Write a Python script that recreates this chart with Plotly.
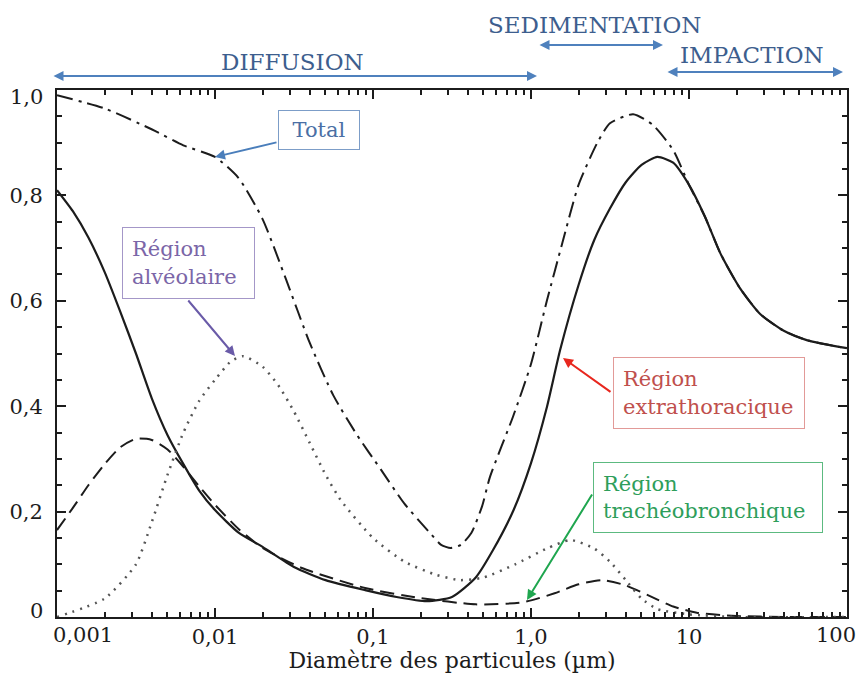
import plotly.graph_objects as go

# ---------------- data (diameter in µm, deposition fraction) ----------------
total_d = [0.001, 0.002, 0.004, 0.0063, 0.01, 0.0141, 0.02, 0.0282, 0.0398, 0.0562,
           0.0794, 0.112, 0.158, 0.224, 0.27, 0.31, 0.36, 0.42, 0.49, 0.55, 0.769, 1.0, 1.26, 1.58,
           2.0, 2.63, 3.16, 4.43, 5.89, 7.94, 10.0, 12.6, 15.8, 20.9, 28.2, 39.8, 56.2, 100.0]
total_v = [0.99, 0.965, 0.925, 0.895, 0.873, 0.833, 0.755, 0.64, 0.52, 0.42,
           0.345, 0.28, 0.215, 0.163, 0.137, 0.131, 0.137, 0.16, 0.21, 0.266, 0.38, 0.48, 0.6, 0.71,
           0.82, 0.9, 0.937, 0.954, 0.934, 0.886, 0.82, 0.76, 0.69, 0.625, 0.575, 0.543, 0.525, 0.51]

extra_d = [0.001, 0.00126, 0.00158, 0.002, 0.00251, 0.00316, 0.00398, 0.00501, 0.00631,
           0.00794, 0.01, 0.0141, 0.02, 0.0316, 0.0501, 0.0891, 0.141, 0.219, 0.316,
           0.447, 0.575, 0.776, 1.0, 1.26, 1.53, 2.0, 2.51, 3.16, 3.98, 5.01, 6.31, 7.94,
           10.0, 12.6, 15.8, 20.9, 28.2, 39.8, 56.2, 100.0]
extra_v = [0.81, 0.77, 0.72, 0.655, 0.58, 0.5, 0.415, 0.345, 0.29,
           0.24, 0.203, 0.16, 0.133, 0.095, 0.07, 0.051, 0.038, 0.03, 0.038,
           0.075, 0.127, 0.203, 0.292, 0.398, 0.507, 0.63, 0.715, 0.775, 0.825, 0.858, 0.873, 0.862,
           0.82, 0.76, 0.69, 0.625, 0.575, 0.543, 0.525, 0.51]

trach_d = [0.001, 0.00126, 0.00158, 0.002, 0.00251, 0.00316, 0.00398, 0.00501, 0.00631,
           0.00794, 0.01, 0.0141, 0.02, 0.0355, 0.0891, 0.2, 0.447, 0.891, 1.41, 2.0,
           2.82, 3.98, 5.62, 7.94, 11.2, 20.0, 39.8, 100.0]
trach_v = [0.165, 0.207, 0.25, 0.29, 0.322, 0.338, 0.336, 0.318, 0.285,
           0.248, 0.213, 0.167, 0.131, 0.093, 0.055, 0.036, 0.024, 0.028, 0.045, 0.062,
           0.07, 0.06, 0.04, 0.02, 0.008, 0.002, 0.0, 0.0]

alv_d = [0.001, 0.002, 0.00316, 0.00398, 0.00501, 0.00631, 0.00794, 0.01, 0.0126,
         0.0151, 0.02, 0.0251, 0.0316, 0.0398, 0.0501, 0.0631, 0.1, 0.158, 0.251,
         0.355, 0.501, 0.794, 1.26, 1.78, 2.51, 3.16, 3.98, 5.01, 6.31, 10.0, 20.0, 100.0]
alv_v = [0.0, 0.035, 0.1, 0.18, 0.27, 0.35, 0.41, 0.45, 0.485,
         0.495, 0.475, 0.44, 0.39, 0.33, 0.27, 0.22, 0.15, 0.105, 0.08,
         0.07, 0.075, 0.1, 0.13, 0.146, 0.13, 0.105, 0.07, 0.035, 0.015, 0.005, 0.0, 0.0]

x_tickvals = [0.001, 0.01, 0.1, 1.0, 10, 100]
x_ticktext = ["0,001", "0,01", "0,1", "1,0", "10", "100"]
x_minor = [m * 10.0 ** e for e in range(-3, 2) for m in range(2, 10)]
y_tickvals = [0, 0.2, 0.4, 0.6, 0.8, 1.0]
y_ticktext = ["0", "0,2", "0,4", "0,6", "0,8", "1,0"]

FONT = "DejaVu Serif"
INK = "#1c1c1c"

# target plot area in window pixels; the page body adds an 8px offset
OFF = 8
L, R, T, B = 57, 847, 90, 617
W, H = 866 - OFF, 673 - OFF


def lx(px):  # pixel -> log10 data
    return (px - L) / (R - L) * 5 - 3


def vy(py):  # pixel -> y data
    return (B - py) / (B - T)


def px_(px):
    return (px - L) / (R - L)


def py_(py):
    return (B - py) / (B - T)


fig = go.Figure()
line_common = dict(shape="spline", smoothing=0.6)
fig.add_trace(go.Scatter(x=total_d, y=total_v, mode="lines", name="Total",
                         line=dict(color=INK, width=2, dash="16px,6px,3px,6px", **line_common)))
fig.add_trace(go.Scatter(x=extra_d, y=extra_v, mode="lines", name="Région extrathoracique",
                         line=dict(color=INK, width=2.2, **line_common)))
fig.add_trace(go.Scatter(x=trach_d, y=trach_v, mode="lines", name="Région trachéobronchique",
                         line=dict(color=INK, width=2, dash="14px,7px", **line_common)))
fig.add_trace(go.Scatter(x=alv_d, y=alv_v, mode="lines", name="Région alvéolaire",
                         line=dict(color="#555555", width=2.5, dash="2px,6px", **line_common)))

ann = []
BLUE_T = "#3d5e8e"
BLUE_A = "#4f81bd"
# top double arrows + labels
for (x0, x1, yy) in [(52, 537, 76), (538, 663, 45), (666, 843, 72)]:
    ann.append(dict(x=lx(x1), y=py_(yy), xref="x", yref="paper",
                    ax=lx(x0), ay=0, axref="x", ayref="pixel",
                    text="", showarrow=True, arrowhead=2, startarrowhead=2,
                    arrowside="end+start", arrowsize=1, startarrowsize=1,
                    arrowwidth=2, arrowcolor=BLUE_A, standoff=0, startstandoff=0))
for (txt, cx, cy) in [("DIFFUSION", 292, 62), ("SEDIMENTATION", 594, 25), ("IMPACTION", 752, 55)]:
    ann.append(dict(x=px_(cx), y=py_(cy), xref="paper", yref="paper", text=txt,
                    showarrow=False, font=dict(family=FONT, size=23, color=BLUE_T),
                    xanchor="center", yanchor="middle"))

# boxed labels
PAD = 9
boxes = [
    ("Total", 278, 360, 110, 150, "#4a6fa5", "#7c9dc8", "center"),
    ("Région<br>alvéolaire", 122, 255, 227, 299, "#7b66a8", "#a497c8", "left"),
    ("Région<br>extrathoracique", 613, 805, 357, 429, "#c0504d", "#e29a98", "left"),
    ("Région<br>trachéobronchique", 593, 823, 462, 533, "#2e9e5b", "#5cba80", "left"),
]
for (txt, x0, x1, y0, y1, tc, bc, al) in boxes:
    ann.append(dict(x=px_((x0 + x1) / 2), y=py_((y0 + y1) / 2), xref="paper", yref="paper",
                    text=txt, showarrow=False, align=al,
                    font=dict(family=FONT, size=21, color=tc),
                    width=x1 - x0 - 2 * PAD - 2, height=y1 - y0 - 2 * PAD - 2, borderpad=PAD,
                    bordercolor=bc, borderwidth=1, bgcolor="white",
                    xanchor="center", yanchor="middle", valign="middle"))

# pointer arrows
arrows = [
    (278, 142, 215, 157, "#4a7ebb"),
    (187, 299, 235, 356, "#6a5ba8"),
    (612, 393, 563, 358, "#e8271e"),
    (593, 493, 527, 600, "#1fa64f"),
]
for (sx, sy, ex, ey, c) in arrows:
    ann.append(dict(x=lx(ex), y=vy(ey), xref="x", yref="y",
                    ax=lx(sx), ay=vy(sy), axref="x", ayref="y",
                    text="", showarrow=True, arrowhead=2, arrowsize=1,
                    arrowwidth=2, arrowcolor=c, standoff=0))

# end tick labels, nudged inward like the reference
tick_font = dict(family=FONT, size=21, color=INK)
ann.append(dict(x=-3, y=0, xref="x", yref="paper", text=x_ticktext[0], showarrow=False,
                xanchor="left", yanchor="top", xshift=-6, yshift=-4, font=tick_font))
ann.append(dict(x=2, y=0, xref="x", yref="paper", text=x_ticktext[-1], showarrow=False,
                xanchor="right", yanchor="top", xshift=11, yshift=-4, font=tick_font))
ann.append(dict(x=0, y=y_tickvals[0], xref="paper", yref="y", text=y_ticktext[0], showarrow=False,
                xanchor="right", yanchor="middle", xshift=-12, yshift=6, font=tick_font))
ann.append(dict(x=0, y=y_tickvals[-1], xref="paper", yref="y", text=y_ticktext[-1], showarrow=False,
                xanchor="right", yanchor="middle", xshift=-12, yshift=-7, font=tick_font))
x_shown = [""] + x_ticktext[1:-1] + [""]
y_shown = [""] + y_ticktext[1:-1] + [""]

fig.update_layout(
    width=W, height=H,
    margin=dict(l=L - OFF, r=W - (R - OFF), t=T - OFF, b=H - (B - OFF), autoexpand=False),
    paper_bgcolor="white", plot_bgcolor="white",
    showlegend=False,
    font=dict(family=FONT, size=21, color=INK),
    annotations=ann,
)
fig.update_xaxes(type="log", range=[-3, 2], showgrid=False, zeroline=False, automargin=False,
                 showline=True, linecolor=INK, linewidth=2, mirror="ticks",
                 ticks="inside", ticklen=9, tickwidth=2, tickcolor=INK,
                 tickmode="array", tickvals=x_tickvals, ticktext=x_shown,
                 tickfont=tick_font,
                 ticklabelstandoff=0, ticklabeloverflow="allow",
                 minor=dict(ticks="inside", ticklen=5, tickwidth=1.5, tickcolor=INK,
                            tickmode="array", tickvals=x_minor, showgrid=False),
                 title=dict(text="Diamètre des particules (µm)", standoff=0,
                            font=dict(family=FONT, size=22, color=INK)))
fig.update_yaxes(range=[0, 1.0], showgrid=False, zeroline=False, automargin=False,
                 showline=True, linecolor=INK, linewidth=2, mirror="ticks",
                 ticks="inside", ticklen=9, tickwidth=2, tickcolor=INK,
                 tickmode="array", tickvals=y_tickvals, ticktext=y_shown,
                 tickfont=tick_font,
                 ticklabelstandoff=8, ticklabeloverflow="allow",
                 minor=dict(ticks="inside", ticklen=5, tickwidth=1.5, tickcolor=INK,
                            dtick=0.05, tick0=0, showgrid=False))

fig.write_html("out.html")
